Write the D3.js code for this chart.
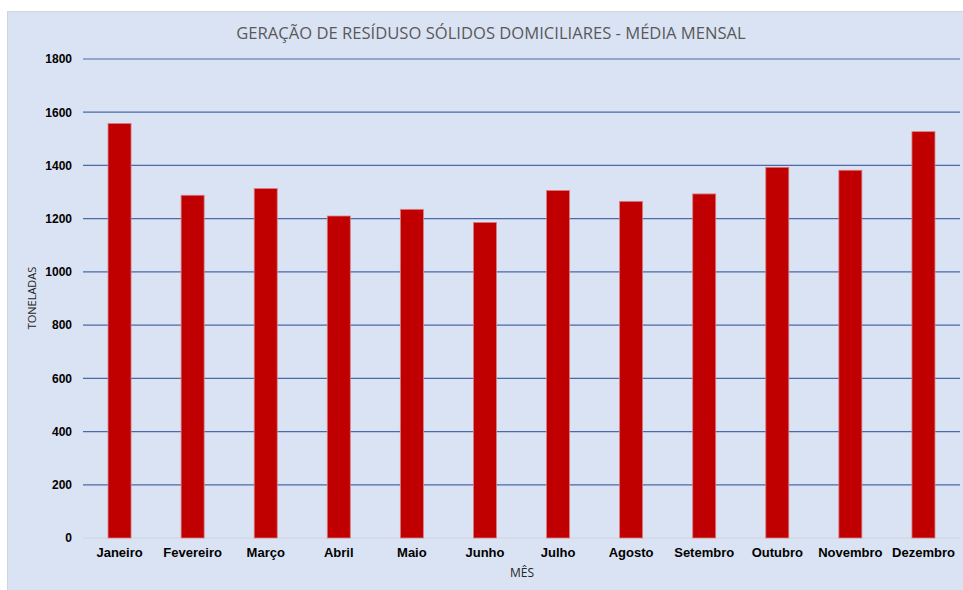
<!DOCTYPE html>
<html>
<head>
<meta charset="utf-8">
<script src="https://cdn.jsdelivr.net/npm/d3@7"></script>
<style>
  body { margin: 0; background: #fff; }
</style>
</head>
<body>
<div id="chart"></div>
<script>
// data
const months = ["Janeiro", "Fevereiro", "Março", "Abril", "Maio", "Junho",
                "Julho", "Agosto", "Setembro", "Outubro", "Novembro", "Dezembro"];
const tons = [1558, 1288, 1313, 1210, 1235, 1186, 1306, 1265, 1293, 1393, 1382, 1527];
const yTicks = [0, 200, 400, 600, 800, 1000, 1200, 1400, 1600, 1800];

const W = 963, H = 590;
const margin = {top: 59, right: 3, bottom: 52, left: 83};
const width = W - margin.left - margin.right,
      height = H - margin.top - margin.bottom;

const svg = d3.select("#chart").append("svg")
    .attr("width", W)
    .attr("height", H);

// chart background
svg.append("rect")
    .attr("x", 7.5).attr("y", 11.5)
    .attr("width", W - 7).attr("height", H - 11)
    .attr("fill", "#dae3f3")
    .attr("stroke", "#d0d5dd");

const g = svg.append("g")
    .attr("transform", `translate(${margin.left},${margin.top})`);

const x = d3.scaleBand().domain(months).range([0, width]).padding(0);
const y = d3.scaleLinear().domain([0, 1800]).range([height, 0]);

// gridlines
g.selectAll("line.grid")
    .data(yTicks.filter(d => d > 0))
    .enter().append("line")
    .attr("class", "grid")
    .attr("x1", 0).attr("x2", width)
    .attr("y1", d => y(d)).attr("y2", d => y(d))
    .attr("stroke", "#4a6aa8")
    .attr("stroke-width", 1.2);

// y axis
const yAxis = g.append("g")
    .call(d3.axisLeft(y).tickValues(yTicks).tickFormat(d3.format("d")).tickSize(0).tickPadding(11));
yAxis.select(".domain").remove();
yAxis.selectAll("text")
    .style("font-family", "Liberation Sans, Arial, sans-serif")
    .style("font-size", "12px")
    .style("font-weight", "bold")
    .attr("fill", "#000");

// baseline
g.append("line")
    .attr("x1", 0).attr("x2", width)
    .attr("y1", y(0)).attr("y2", y(0))
    .attr("stroke", "#d0d5dd");

// x axis
const xAxis = g.append("g")
    .attr("transform", `translate(0,${height})`)
    .call(d3.axisBottom(x).tickSize(0).tickPadding(10));
xAxis.select(".domain").remove();
xAxis.selectAll("text")
    .style("font-family", "Liberation Sans, Arial, sans-serif")
    .style("font-size", "13px")
    .style("font-weight", "bold")
    .attr("fill", "#000");

// bars
const barW = x.bandwidth() * 0.315;
g.selectAll("rect.bar")
    .data(tons)
    .enter().append("rect")
    .attr("class", "bar")
    .attr("x", (d, i) => x(months[i]) + (x.bandwidth() - barW) / 2)
    .attr("y", d => y(d))
    .attr("width", barW)
    .attr("height", d => height - y(d))
    .attr("fill", "#c00000")
    .attr("stroke", "#d98080")
    .attr("stroke-width", 0.8);

// title
svg.append("text")
    .attr("x", 491).attr("y", 39)
    .attr("text-anchor", "middle")
    .style("font-family", "Open Sans, sans-serif")
    .style("font-size", "16.6px")
    .attr("fill", "#595959")
    .text("GERAÇÃO DE RESÍDUSO SÓLIDOS DOMICILIARES - MÉDIA MENSAL");

// y label
svg.append("text")
    .attr("transform", "translate(36,298) rotate(-90)")
    .attr("text-anchor", "middle")
    .style("font-family", "Open Sans, sans-serif")
    .style("font-size", "11px")
    .attr("fill", "#262626")
    .text("TONELADAS");

// x label
svg.append("text")
    .attr("x", 522).attr("y", 577)
    .attr("text-anchor", "middle")
    .style("font-family", "Open Sans, sans-serif")
    .style("font-size", "12px")
    .attr("fill", "#262626")
    .text("MÊS");
</script>
</body>
</html>
